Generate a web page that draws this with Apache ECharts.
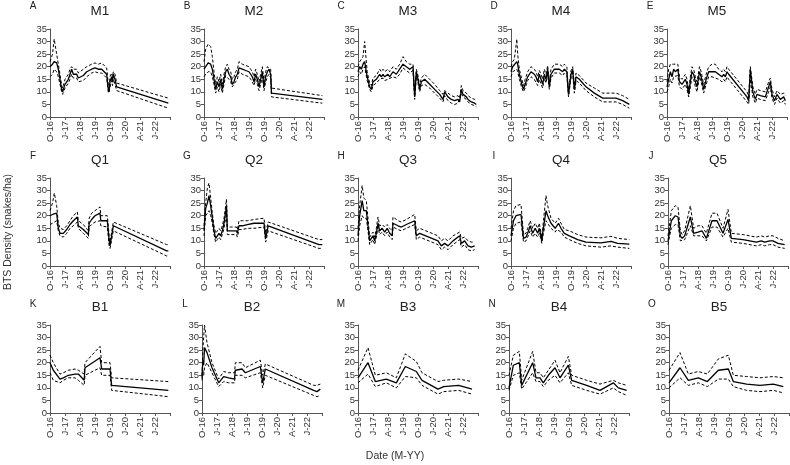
<!DOCTYPE html>
<html>
<head>
<meta charset="utf-8">
<script src="https://cdn.jsdelivr.net/npm/echarts@6/dist/echarts.min.js"></script>
<style>
  html, body { margin: 0; padding: 0; background: #fff; }
  #chart { width: 790px; height: 465px; }
</style>
</head>
<body>
<div id="chart"></div>
<script>
// x values are months since Oct 2016
const tickLabels = ['O-16', 'J-17', 'A-18', 'J-19', 'O-19', 'J-20', 'A-21', 'J-22', '']

const x_M1 = [0, 1.5, 2.5, 4, 5, 6, 7, 7.6, 8, 9, 10, 11, 12, 13, 14, 15, 16, 17, 18, 20, 22, 25, 27, 29, 31, 34, 35, 35.5, 36, 37, 37.5, 38, 39, 40, 71]
const mean_M1 = [20, 21, 22, 21.5, 19, 15, 11, 10, 11, 13, 13.5, 15, 17, 19, 17, 16.5, 17, 15.5, 15.5, 16.5, 18, 19, 19.5, 19, 19, 17, 11, 10, 14, 16, 14, 17, 15, 12, 5.5]
const hi_M1 = [22, 25, 31, 25, 21, 17, 12.5, 11.5, 12.5, 15, 15.5, 17, 19, 20, 19, 18.5, 19, 17.5, 17, 19, 20, 21, 21.5, 21, 21.5, 19.5, 13, 12, 16, 17.5, 16, 18, 17, 13.5, 7.5]
const lo_M1 = [16, 17, 19, 18, 16, 13, 10, 9, 10, 11.5, 12, 13.5, 15, 17, 15.5, 15, 15.5, 14, 14, 14.5, 16, 17.5, 18, 17.5, 17.5, 15.5, 9.5, 9, 12, 14.5, 12.5, 15, 13, 10.5, 3.5]

const x_M2 = [0, 1, 2.5, 4, 5, 6, 7, 8, 9, 10, 11, 12, 13, 14, 15, 16, 17, 18, 19, 20, 21, 23, 25, 27, 28, 29, 30, 31, 32, 33, 34, 35, 36, 37, 38, 39, 40, 40.5, 71]
const mean_M2 = [19, 20, 21.5, 21, 19, 15, 11, 14, 12, 15, 11, 15, 18, 19, 17, 16, 13, 14, 16, 17, 19.5, 19, 18.5, 18, 17, 16, 14, 17, 15, 12, 15, 18, 12, 16, 18, 19, 17, 9.5, 7]
const hi_M2 = [22, 27, 29, 28, 24, 18, 13, 16, 14, 17, 13, 17, 20, 21, 19, 18, 15, 16, 18, 19, 22, 21, 20.5, 20, 19, 18, 16, 19, 17, 14, 17, 20, 14, 18, 20, 20, 19, 11.5, 8.5]
const lo_M2 = [16, 17, 18, 18, 16, 13, 9.5, 12, 10, 13, 9.5, 13, 16.5, 17, 15, 14, 12, 12.5, 14, 15, 18, 17, 16.5, 16, 15, 14, 12.5, 15, 13, 10.5, 13, 16, 10.5, 14, 16, 17, 15.5, 8, 5.5]

const x_M3 = [0, 1, 2, 3, 4, 5.5, 7, 8, 9, 11, 13, 14, 15, 16, 18, 19, 21, 23, 25, 27, 29, 31, 33, 34, 35, 36, 37, 38, 40, 43, 46, 49, 51, 52, 54, 56, 58, 60, 61, 62, 63, 65, 66, 68, 70, 71]
const mean_M3 = [18, 20, 19, 21, 22, 16, 12, 11, 14, 15, 17, 16, 17, 16, 17, 16, 18, 17, 19, 21, 20, 19, 20, 8, 18, 15, 11, 14, 15, 13, 11, 9, 7, 10, 8, 7, 6.5, 7, 6, 11, 9, 8, 7, 6, 5.5, 5]
const hi_M3 = [20, 22, 22, 24, 30, 18, 13.5, 12.5, 15.5, 16.5, 19, 18, 19, 18, 19, 18, 20, 19, 21, 24, 22, 21, 21, 9, 19, 16.5, 12.5, 15.5, 17, 15, 13, 10.5, 9, 10.5, 9.5, 8.5, 8, 8.5, 7.5, 12.5, 10.5, 9.5, 8.5, 7.5, 7, 6.5]
const lo_M3 = [16, 18, 17, 19, 20, 14.5, 11, 10, 12.5, 13.5, 15, 14.5, 15.5, 14.5, 15, 14.5, 16, 15.5, 17, 19.5, 18.5, 17.5, 18.5, 7, 16, 13.5, 10, 12.5, 13, 11.5, 9.5, 7.5, 6, 8.5, 6.5, 5.5, 5, 5.5, 5, 9.5, 8, 7, 6, 5, 4.5, 4]

const x_M4 = [0, 1, 2, 3.5, 4, 5, 6.5, 7.5, 8.5, 10, 12, 14, 15, 16, 17, 18, 19, 20, 21, 22, 23, 24, 26, 29, 31, 32, 33.5, 34.5, 36, 37, 38, 38.5, 39, 41, 45, 50, 55, 63, 67, 71]
const mean_M4 = [18, 20, 20, 22, 21, 17, 13, 11, 13, 16, 18, 17, 16, 14, 17, 15, 13, 17, 15, 19, 12, 17, 19, 19, 18, 19, 18, 9, 17, 19, 11, 13, 16, 15, 12, 9.5, 7.5, 7.5, 6.5, 5]
const hi_M4 = [20, 22, 23, 31, 25, 19, 15, 12.5, 15, 18, 20, 19, 18, 16, 18.5, 17, 15, 19, 17, 20.5, 14, 19, 21, 21, 20, 21, 20, 10, 18.5, 20, 12.5, 14.5, 17.5, 16.5, 13.5, 11.5, 9.5, 9.5, 8.5, 7]
const lo_M4 = [16, 18, 18, 19, 18, 15, 11.5, 10, 11.5, 14.5, 16, 15, 14.5, 12.5, 15, 13, 11.5, 15.5, 13.5, 17, 11, 15.5, 17.5, 17.5, 16.5, 17.5, 16.5, 8, 15.5, 17.5, 9.5, 11.5, 14.5, 13.5, 10.5, 8, 6, 6, 5, 3.5]

const x_M5 = [0, 1, 2, 3, 4, 5, 6.5, 7.5, 9, 10, 11, 12, 13, 14, 15, 16, 17, 18, 19.5, 20.5, 22, 23.5, 25, 27, 29, 31, 33, 34, 35, 36, 37, 48, 49, 50, 51.5, 53, 54, 56, 59, 61, 62, 63, 64.5, 66, 68, 70, 71]
const mean_M5 = [12, 15, 18, 16, 19, 18, 19, 14, 13, 13, 15, 13, 9, 14, 18, 17, 14, 12, 18, 16, 11, 15, 18, 18, 18, 17, 16, 17, 16, 18, 17, 8, 6.5, 19, 10, 7, 9, 8.5, 8, 12, 14, 9, 6.5, 9, 7, 8, 6.5]
const hi_M5 = [14, 19, 21, 21, 21, 21, 21, 16, 15, 15, 17, 15, 11, 16, 20, 19, 16, 14, 20, 18, 13, 17, 20, 21, 21, 19, 18, 19, 18, 20, 19, 10, 8, 20, 12, 9, 11, 10.5, 10, 14, 15.5, 11, 8, 10.5, 9, 9.5, 8.5]
const lo_M5 = [10, 12, 15, 13.5, 16, 15.5, 16.5, 12, 11, 11, 13, 11, 8, 12, 16, 15, 12, 10, 16, 14, 9.5, 13, 16, 16, 15.5, 15, 14, 15, 14, 16, 15, 6, 5, 15, 8, 5.5, 7.5, 7, 6.5, 10, 12, 7.5, 5, 7.5, 5.5, 6.5, 5]

const x_Q1 = [0, 1.5, 2.6, 4, 5, 6, 8, 10, 12, 14, 16.4, 17, 20, 23, 23.5, 25, 27, 30, 30.5, 34.4, 35.5, 36, 38, 70, 71]
const mean_Q1 = [20, 20.5, 21, 21, 15, 13, 13, 14.5, 16.5, 18, 19.5, 16, 14.5, 12.5, 17, 18.5, 20, 21, 18, 18, 10, 8, 16, 6, 6]
const hi_Q1 = [22, 25, 29, 24, 17, 15, 14.5, 16, 18, 20, 21.5, 18, 16.5, 14, 19, 21, 22, 23.5, 20, 20, 12, 9.5, 17.5, 8.5, 8.5]
const lo_Q1 = [16.5, 17, 17.5, 18, 14, 12, 11.5, 13, 15, 16, 17.5, 15, 13, 11, 15.5, 16.5, 17.5, 18, 16, 15.5, 8, 7, 14, 4, 4]

const x_Q2 = [0, 1, 2, 3, 4, 5, 6, 7, 8, 9, 10, 11, 12, 13.5, 14, 16, 18, 19.5, 20, 21, 23, 26, 27, 30, 36, 37, 38.5, 69, 71]
const mean_Q2 = [14, 23, 25, 28, 24, 19, 14, 11, 12, 13, 12, 14, 17, 24, 14, 14, 14, 14, 13, 16, 16, 16.5, 16, 17, 17, 11, 16, 8.5, 8.5]
const hi_Q2 = [16, 25, 31, 33, 27, 21, 16, 13, 14, 15, 14, 16, 19, 26.5, 15.5, 15.5, 15.5, 15.5, 14.5, 18, 18, 18, 17.5, 18.5, 19, 13, 17.5, 10.5, 10.5]
const lo_Q2 = [12, 20, 21, 22, 20, 17, 12.5, 9.5, 10.5, 11.5, 10.5, 12.5, 15, 21, 12.5, 12.5, 12.5, 12.5, 11.5, 14.5, 14.5, 15, 14.5, 15, 15.5, 9.5, 14, 7, 7]

const x_Q3 = [0, 1, 2.5, 3.5, 5, 6, 7, 8, 9, 10, 11, 12, 13, 14.5, 16, 17.5, 19, 20.5, 21, 24, 26, 29, 34, 35, 37, 48, 50, 52, 54, 57, 61, 62, 64, 66, 68, 70]
const mean_Q3 = [12, 20, 26, 22, 22, 16, 10, 11, 12, 10, 13, 17, 14, 15, 13.5, 15, 13, 12, 17, 16, 15.5, 16.5, 18, 12, 13, 10, 8, 9, 8, 10, 12, 9, 10, 8, 7.5, 8]
const hi_Q3 = [15, 24, 32, 27, 26, 19, 11.5, 12.5, 13.5, 11.5, 15, 19.5, 16, 16.5, 15.5, 16.5, 15, 14, 19.5, 18, 17.5, 18.5, 20.5, 14, 15, 12, 10, 11, 10, 12, 13.5, 11, 11.5, 10, 9.5, 9.5]
const lo_Q3 = [10, 16, 20, 19, 19, 14, 8.5, 9.5, 10.5, 8.5, 11.5, 15.5, 12.5, 13.5, 12, 13.5, 11.5, 10.5, 15.5, 14.5, 14, 15, 16.5, 10.5, 11.5, 8.5, 6.5, 7.5, 6.5, 8.5, 10.5, 7.5, 8.5, 6.5, 6, 6.5]

const x_Q4 = [0, 1.5, 3, 6, 7.5, 9, 10, 11.5, 13, 14.5, 16, 17, 18.5, 19, 21, 22, 24, 26.5, 27.5, 28.5, 30, 32, 35, 40, 45, 54, 60, 64, 71]
const mean_Q4 = [12, 18, 20, 20.5, 11, 11.5, 13, 16, 13, 15, 13, 15, 10, 13, 22, 20, 17, 15, 16, 17, 15, 13, 12, 10.5, 9.5, 9.2, 9.8, 9, 8.7]
const hi_Q4 = [15, 22, 24, 24.5, 12.5, 13, 15, 18, 15, 17, 15, 17, 11.5, 15, 28, 24, 19, 17, 18, 19, 17, 14.5, 14, 12.5, 11.5, 11.2, 11.8, 11, 10.5]
const lo_Q4 = [10, 15, 17, 17.5, 9.5, 10, 11.5, 14, 11.5, 13, 11.5, 13, 9, 11.5, 18, 17.5, 15, 13.5, 14.5, 15, 13.5, 11.5, 10.5, 9, 8, 7.5, 8, 7.5, 7]

const x_Q5 = [0, 1, 2, 4.4, 6, 7.4, 8.5, 10, 13.4, 15.4, 18, 20.4, 23, 26.4, 29.4, 33, 36, 38, 45, 53, 56, 58, 61, 63, 66, 70]
const mean_Q5 = [10, 14, 18, 20, 19.5, 12, 11, 12, 19.5, 13, 13.5, 14, 11, 18, 18, 13, 18.5, 11, 10.5, 9.5, 10, 9.5, 10, 10, 9, 8.5]
const hi_Q5 = [12, 17, 22, 24, 23.5, 14, 12.5, 14, 24, 15, 16, 16, 13, 21, 21, 15, 22.5, 13, 12.5, 11.5, 12, 11.5, 12, 12, 11, 10]
const lo_Q5 = [8.5, 12, 15, 16.5, 16.5, 10, 9.5, 10.5, 16, 12, 12, 12, 10, 15.5, 15.5, 11.5, 15, 9.5, 9, 8, 8.5, 8, 8.5, 8.5, 7.5, 7]

const x_B1 = [0, 2, 6, 8, 11, 15, 17, 20.5, 21, 30, 31, 36, 37, 71]
const mean_B1 = [20, 17, 13.5, 14, 15, 15.5, 15.5, 13, 18, 22, 17.5, 17.5, 11, 9]
const hi_B1 = [23, 20, 15.5, 16, 17, 17.5, 17, 15.5, 20, 26.5, 20, 20, 14, 12.5]
const lo_B1 = [16, 13, 12, 13, 14, 14, 13, 11, 15, 18, 15, 15, 9, 6.5]

const x_B2 = [0, 0.5, 1, 1.5, 3, 6, 10, 13, 16, 19.5, 20, 24, 26, 35, 36.4, 38, 67, 69, 71]
const mean_B2 = [14, 21, 19, 26, 24, 18, 12, 14.5, 14, 13.5, 17, 17.5, 16, 18.5, 12, 17.5, 9, 8.5, 9.5]
const hi_B2 = [15, 25, 30, 35, 28, 20, 13.5, 16.5, 16, 16, 20, 20, 18, 21, 15, 19.5, 11, 11, 11.5]
const lo_B2 = [13, 17, 15, 18, 20, 16, 10.5, 12.5, 12, 12, 15, 15, 14, 16, 10, 15, 7, 6.5, 7]

const x_B3 = [0, 6, 10.4, 17, 23, 28.4, 35, 38.4, 48, 51.4, 60.4, 68.4]
const mean_B3 = [14, 20, 12.5, 13.5, 12, 18.5, 16.5, 13, 9.5, 10.5, 11, 9.5]
const hi_B3 = [17, 26, 15, 16, 14, 23.5, 20.5, 16, 12.5, 13, 13.5, 12.5]
const lo_B3 = [12, 15.5, 10.5, 12, 10, 14.5, 14, 11, 7.5, 8.5, 9, 7.5]

const x_B4 = [0, 2.6, 6.2, 7.6, 14.2, 16.2, 18.6, 20.6, 23.6, 27.6, 30.6, 35.6, 37.6, 46.6, 54.6, 62.6, 65.6, 70.6]
const mean_B4 = [10, 19, 20, 11, 20, 14, 14, 12, 15, 18, 14, 19, 13, 11, 9, 12, 10, 9]
const hi_B4 = [15, 23, 24.5, 13, 24.5, 16, 16, 14, 17, 21, 16, 22.5, 15, 13, 11.5, 13, 12, 11]
const lo_B4 = [9, 15, 16, 9.5, 16, 12.5, 12.5, 10.5, 13, 15, 12, 16, 11, 9, 7.5, 10, 8.5, 7]

const x_B5 = [0, 6.6, 11.6, 17.6, 23, 29.6, 35.6, 38.6, 46.6, 54.6, 62.6, 68.6]
const mean_B5 = [12, 18, 13, 14, 12.5, 17, 17.5, 12.5, 11.5, 11, 11.5, 10.5]
const hi_B5 = [17, 24, 15.5, 16.5, 15.5, 21.5, 23, 15, 14.5, 14, 14.5, 14]
const lo_B5 = [10, 14, 11, 12, 10.5, 13.5, 13.5, 10.5, 9, 8.5, 9, 8]

const panelNames = ['M1', 'M2', 'M3', 'M4', 'M5', 'Q1', 'Q2', 'Q3', 'Q4', 'Q5', 'B1', 'B2', 'B3', 'B4', 'B5']
const panelLetters = ['A', 'B', 'C', 'D', 'E', 'F', 'G', 'H', 'I', 'J', 'K', 'L', 'M', 'N', 'O']
const panelData = [
  [x_M1, mean_M1, hi_M1, lo_M1], [x_M2, mean_M2, hi_M2, lo_M2], [x_M3, mean_M3, hi_M3, lo_M3],
  [x_M4, mean_M4, hi_M4, lo_M4], [x_M5, mean_M5, hi_M5, lo_M5],
  [x_Q1, mean_Q1, hi_Q1, lo_Q1], [x_Q2, mean_Q2, hi_Q2, lo_Q2], [x_Q3, mean_Q3, hi_Q3, lo_Q3],
  [x_Q4, mean_Q4, hi_Q4, lo_Q4], [x_Q5, mean_Q5, hi_Q5, lo_Q5],
  [x_B1, mean_B1, hi_B1, lo_B1], [x_B2, mean_B2, hi_B2, lo_B2], [x_B3, mean_B3, hi_B3, lo_B3],
  [x_B4, mean_B4, hi_B4, lo_B4], [x_B5, mean_B5, hi_B5, lo_B5]
]

// layout
const colLeft = [
  [50, 204, 358, 511, 667],
  [50, 204, 358, 511, 668],
  [50, 202, 358, 509, 669]
]
const rowTop = [29, 178, 325]
const rowTitleY = [11, 160, 307]
const rowLetterY = [6, 156, 304]
const plotW = 120
const plotH = 88
const textColor = '#333'
const axisColor = '#555'
const font = '"Liberation Sans", Arial, sans-serif'

const zip = (xs, ys) => xs.map((v, i) => [v, ys[i]])

const chart = echarts.init(document.getElementById('chart'))

const grids = []
const xAxes = []
const yAxes = []
const series = []
const graphics = []

panelNames.forEach((name, i) => {
  const r = Math.floor(i / 5)
  const c = i % 5
  const left = colLeft[r][c]
  const top = rowTop[r]
  grids.push({ left: left, top: top, width: plotW, height: plotH, containLabel: false })
  xAxes.push({
    type: 'value',
    gridIndex: i,
    min: 0,
    max: 72,
    interval: 9,
    splitLine: { show: false },
    axisLine: { lineStyle: { color: axisColor, width: 1 } },
    axisTick: { show: true, length: 3, lineStyle: { color: axisColor } },
    axisLabel: {
      rotate: 90,
      fontSize: 9.5,
      color: textColor,
      margin: 4,
      fontFamily: font,
      showMaxLabel: true,
      formatter: (v) => tickLabels[Math.round(v / 9)] || ''
    }
  })
  yAxes.push({
    type: 'value',
    gridIndex: i,
    min: 0,
    max: 35,
    interval: 5,
    splitLine: { show: false },
    axisLine: { show: true, lineStyle: { color: axisColor, width: 1 } },
    axisTick: { show: true, length: 3, lineStyle: { color: axisColor } },
    axisLabel: { fontSize: 9.5, color: textColor, margin: 3, fontFamily: font }
  })
  const [xs, mean, hi, lo] = panelData[i]
  const dashed = { color: '#000', width: 1, type: [3, 2] }
  series.push({
    type: 'line', xAxisIndex: i, yAxisIndex: i, data: zip(xs, hi),
    symbol: 'none', lineStyle: dashed, silent: true
  })
  series.push({
    type: 'line', xAxisIndex: i, yAxisIndex: i, data: zip(xs, lo),
    symbol: 'none', lineStyle: dashed, silent: true
  })
  series.push({
    type: 'line', xAxisIndex: i, yAxisIndex: i, data: zip(xs, mean),
    symbol: 'none', lineStyle: { color: '#000', width: 1.3 }, silent: true
  })
  graphics.push({
    type: 'text', x: left + 50, y: rowTitleY[r],
    style: { text: name, fill: '#222', font: '13.5px ' + font, textAlign: 'center', textVerticalAlign: 'middle' }
  })
  graphics.push({
    type: 'text', x: left - 17, y: rowLetterY[r],
    style: { text: panelLetters[i], fill: '#222', font: '10px ' + font, textAlign: 'center', textVerticalAlign: 'middle' }
  })
})

graphics.push({
  type: 'text', x: 8, y: 232, rotation: Math.PI / 2,
  style: { text: 'BTS Density (snakes/ha)', fill: textColor, font: '10.5px ' + font, textAlign: 'center', textVerticalAlign: 'middle' }
})
graphics.push({
  type: 'text', x: 395, y: 456,
  style: { text: 'Date (M-YY)', fill: textColor, font: '10.5px ' + font, textAlign: 'center', textVerticalAlign: 'middle' }
})

chart.setOption({
  backgroundColor: '#fff',
  animation: false,
  grid: grids,
  xAxis: xAxes,
  yAxis: yAxes,
  series: series,
  graphic: graphics
})
</script>
</body>
</html>
